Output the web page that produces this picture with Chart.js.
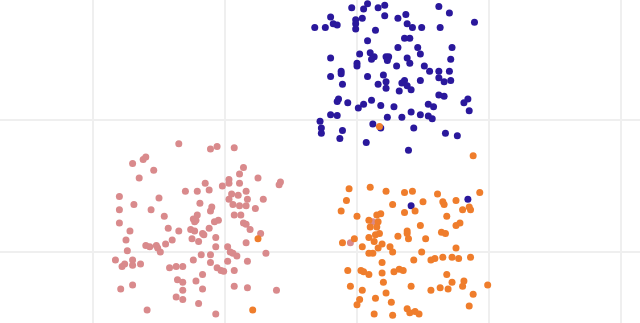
<!DOCTYPE html>
<html>
<head>
<meta charset="utf-8">
<script src="https://cdn.jsdelivr.net/npm/chart.js@4/dist/chart.umd.min.js"></script>
<style>
  html, body { margin: 0; padding: 0; background: #fff; }
  .chart-box { width: 640px; height: 323px; position: relative; }
</style>
</head>
<body>
<div class="chart-box"><canvas id="chart-scatter"></canvas></div>
<script>
// gridline positions (data units)
const xTicks = [0, 1, 2, 3, 4];
const yTicks = [0, 1];

// visible window
const xRange = [-0.7045, 4.1439];
const yRange = [-0.5379, 1.9091];

const bluePoints = [
  [1.96,1.85],[2.05,1.84],[2.08,1.88],[2.16,1.85],[2.21,1.87],[2.62,1.86],[2.70,1.81],
  [1.80,1.78],[1.99,1.76],[2.04,1.77],[2.21,1.79],[2.31,1.77],[2.37,1.80],
  [1.68,1.70],[1.76,1.70],[1.82,1.73],[1.85,1.72],[1.99,1.73],[1.99,1.69],[2.14,1.68],
  [2.38,1.73],[2.42,1.70],[2.49,1.70],[2.63,1.70],[2.89,1.74],
  [2.08,1.60],[2.36,1.62],[2.40,1.62],[2.31,1.55],[2.46,1.55],[2.72,1.55],
  [1.80,1.47],[2.02,1.50],[2.10,1.51],[2.13,1.48],[2.11,1.46],[2.22,1.48],[2.24,1.48],
  [2.23,1.45],[2.38,1.47],[2.40,1.43],[2.48,1.50],[2.71,1.46],[2.00,1.43],[2.00,1.41],
  [2.30,1.41],[2.51,1.41],[2.55,1.37],[2.62,1.37],[2.70,1.37],[1.88,1.37],[1.88,1.35],
  [1.80,1.33],[2.08,1.33],[2.20,1.34],[2.62,1.32],[2.66,1.29],[2.71,1.30],[2.48,1.30],
  [2.36,1.30],[2.34,1.28],[2.22,1.29],[2.16,1.27],[2.22,1.24],[1.89,1.27],[2.38,1.26],
  [2.41,1.23],[2.32,1.22],[2.62,1.19],[2.66,1.18],[1.86,1.16],[1.85,1.14],[1.93,1.13],
  [2.11,1.15],[2.05,1.12],[2.18,1.11],[2.01,1.09],[2.28,1.10],[2.54,1.12],[2.58,1.10],
  [2.84,1.16],[2.81,1.13],[2.85,1.07],[1.80,1.04],[1.85,1.035],[2.23,1.02],[2.34,1.02],
  [2.41,1.06],[2.48,1.04],[2.54,1.03],[2.57,1.01],[1.72,0.99],[1.73,0.94],[1.73,0.90],
  [2.12,0.97],[2.18,0.94],[1.89,0.92],[1.87,0.86],[2.43,0.94],[2.67,0.90],[2.76,0.88],
  [2.07,0.83],[2.39,0.77],[2.41,0.35],[2.84,0.40]
];

const pinkPoints = [
  [0.65,0.82],[0.89,0.78],[0.94,0.80],[1.07,0.79],[0.30,0.67],[0.38,0.70],[0.40,0.72],
  [0.46,0.62],[0.35,0.56],[1.14,0.64],[1.11,0.59],[1.03,0.55],[1.03,0.52],[1.11,0.52],
  [1.25,0.56],[1.42,0.53],[1.41,0.51],[0.85,0.52],[0.98,0.50],[0.70,0.46],[0.79,0.46],
  [0.88,0.47],[1.16,0.46],[0.20,0.42],[0.50,0.41],[1.05,0.44],[1.10,0.43],[1.03,0.40],
  [1.17,0.40],[1.29,0.40],[0.81,0.37],[0.31,0.36],[1.06,0.36],[1.11,0.35],[1.16,0.35],
  [1.23,0.33],[0.20,0.32],[0.44,0.32],[0.90,0.34],[0.89,0.31],[1.07,0.28],[1.12,0.28],
  [0.54,0.27],[0.79,0.28],[0.76,0.25],[0.78,0.24],[0.77,0.23],[0.95,0.24],[0.92,0.23],
  [1.14,0.22],[1.16,0.21],[0.20,0.22],[0.57,0.18],[0.65,0.16],[0.74,0.17],[0.77,0.16],
  [0.88,0.18],[1.19,0.17],[0.28,0.16],[0.83,0.14],[0.84,0.13],[1.27,0.14],[0.75,0.10],
  [0.80,0.08],[0.93,0.11],[0.60,0.09],[0.25,0.09],[1.16,0.07],[0.40,0.05],[0.43,0.04],
  [0.48,0.05],[0.49,0.03],[0.55,0.06],[0.51,0.00],[0.26,0.01],[0.93,0.04],[1.02,0.04],
  [1.04,0.00],[1.06,-0.01],[1.09,-0.03],[1.31,-0.01],[0.82,-0.02],[0.89,-0.02],
  [0.76,-0.06],[0.17,-0.06],[0.24,-0.09],[0.22,-0.11],[0.30,-0.06],[0.30,-0.10],
  [0.36,-0.09],[0.89,-0.08],[1.02,-0.07],[1.17,-0.07],[0.58,-0.12],[0.63,-0.11],
  [0.68,-0.11],[0.94,-0.12],[0.97,-0.14],[0.99,-0.145],[1.07,-0.14],[0.83,-0.17],
  [0.64,-0.21],[0.68,-0.23],[0.78,-0.22],[0.30,-0.25],[0.21,-0.28],[0.68,-0.29],
  [0.83,-0.28],[1.07,-0.26],[1.17,-0.27],[1.39,-0.29],[0.63,-0.34],[0.68,-0.36],
  [0.80,-0.39],[0.41,-0.44],[0.93,-0.47],[2.12,0.23],[1.95,0.07]
];

const orangePoints = [
  [2.88,0.73],[1.94,0.48],[2.10,0.49],[2.22,0.46],[2.36,0.45],[2.42,0.46],[2.61,0.44],
  [2.93,0.45],[1.92,0.39],[2.27,0.36],[2.50,0.38],[2.65,0.38],[2.66,0.36],[2.75,0.39],
  [2.80,0.32],[2.85,0.34],[2.86,0.32],[1.88,0.31],[2.36,0.30],[2.44,0.31],[2.00,0.27],
  [2.15,0.28],[2.18,0.29],[2.68,0.27],[2.09,0.24],[2.16,0.23],[2.10,0.19],[2.15,0.19],
  [2.78,0.22],[2.75,0.20],[2.48,0.20],[2.38,0.16],[2.38,0.14],[2.64,0.15],[2.67,0.14],
  [2.14,0.13],[2.17,0.14],[2.31,0.12],[2.39,0.10],[2.52,0.10],[1.98,0.10],[2.09,0.11],
  [1.89,0.07],[2.13,0.08],[2.19,0.06],[2.04,0.04],[2.16,0.03],[2.25,0.04],[2.75,0.03],
  [2.27,0.00],[2.09,-0.01],[2.12,-0.01],[2.49,0.00],[2.43,-0.06],[2.56,-0.06],[2.59,-0.05],
  [2.65,-0.04],[2.72,-0.04],[2.77,-0.05],[2.86,-0.04],[2.19,-0.08],[1.93,-0.14],
  [2.03,-0.14],[2.05,-0.15],[2.09,-0.17],[2.19,-0.16],[2.28,-0.15],[2.32,-0.13],
  [2.35,-0.14],[2.68,-0.17],[2.20,-0.23],[1.95,-0.26],[2.41,-0.26],[2.63,-0.27],
  [2.69,-0.28],[2.72,-0.23],[2.81,-0.22],[2.80,-0.26],[2.99,-0.25],[2.04,-0.29],
  [2.56,-0.29],[2.22,-0.31],[2.88,-0.32],[2.02,-0.36],[2.14,-0.35],[2.26,-0.38],
  [2.00,-0.40],[2.85,-0.41],[2.38,-0.43],[2.40,-0.46],[2.44,-0.45],[2.47,-0.47],
  [2.13,-0.47],[2.27,-0.48],[2.17,0.95],[1.25,0.10],[1.21,-0.44]
];

const toXY = (pts) => pts.map(([x, y]) => ({ x, y }));

function dataset(pts, color) {
  return {
    data: toXY(pts),
    backgroundColor: color,
    borderColor: color,
    borderWidth: 0,
    pointRadius: 3.5,
    pointHoverRadius: 3.5
  };
}

const gridOpts = { color: '#efefef', lineWidth: 2, drawTicks: false };

new Chart(document.getElementById('chart-scatter').getContext('2d'), {
  type: 'scatter',
  data: {
    datasets: [
      dataset(orangePoints, '#ef7d2c'),
      dataset(bluePoints, '#2a189c'),
      dataset(pinkPoints, '#d98a8c')
    ]
  },
  options: {
    responsive: true,
    maintainAspectRatio: false,
    animation: false,
    layout: { padding: 0, autoPadding: false },
    plugins: { legend: { display: false }, tooltip: { enabled: false } },
    scales: {
      x: {
        min: xRange[0], max: xRange[1],
        grid: gridOpts,
        border: { display: false },
        ticks: { display: false },
        afterBuildTicks: (axis) => { axis.ticks = xTicks.map((v) => ({ value: v })); }
      },
      y: {
        min: yRange[0], max: yRange[1],
        grid: gridOpts,
        border: { display: false },
        ticks: { display: false },
        afterBuildTicks: (axis) => { axis.ticks = yTicks.map((v) => ({ value: v })); }
      }
    }
  }
});
</script>
</body>
</html>
